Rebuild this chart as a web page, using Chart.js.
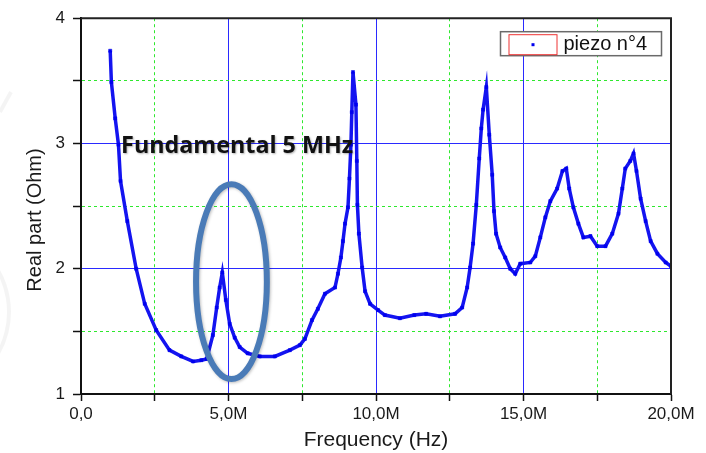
<!DOCTYPE html>
<html>
<head>
<meta charset="utf-8">
<title>piezo n°4</title>
<script src="https://cdn.jsdelivr.net/npm/chart.js@4/dist/chart.umd.min.js"></script>
<style>
  html, body { margin: 0; padding: 0; background: #fff; }
  #wrap { width: 706px; height: 453px; }
</style>
</head>
<body>
<div id="wrap"><canvas id="impedance" width="706" height="453"></canvas></div>
<script>
// Frequency sweep, MHz
const freqMHz = [
  0.99, 1.03, 1.16, 1.27, 1.34, 1.57, 1.87, 2.16, 2.55, 3.00,
  3.40, 3.80, 4.08, 4.26, 4.47, 4.60, 4.70, 4.79, 4.91, 5.04,
  5.21, 5.38, 5.65, 6.06, 6.57, 7.08, 7.42, 7.59, 7.83, 8.03,
  8.27, 8.61, 8.71, 8.81, 8.88, 8.95, 9.05, 9.10, 9.15, 9.18,
  9.22, 9.32, 9.35, 9.37, 9.42, 9.53, 9.63, 9.80, 10.07, 10.30,
  10.81, 11.30, 11.70, 12.17, 12.68, 12.92, 13.09, 13.19, 13.29, 13.40,
  13.50, 13.57, 13.63, 13.74, 13.84, 13.94, 14.00, 14.07, 14.21, 14.38,
  14.55, 14.72, 14.89, 15.23, 15.40, 15.57, 15.74, 15.91, 16.14, 16.32,
  16.45, 16.55, 16.69, 16.86, 17.03, 17.27, 17.50, 17.78, 18.01, 18.22,
  18.35, 18.45, 18.62, 18.73, 18.83, 18.97, 19.14, 19.31, 19.54, 19.82,
  20.00
];
// Real part of the impedance, Ohm
const realOhm = [
  3.74, 3.49, 3.20, 2.99, 2.70, 2.38, 2.00, 1.72, 1.51, 1.35,
  1.30, 1.26, 1.27, 1.28, 1.47, 1.69, 1.85, 1.97, 1.75, 1.56,
  1.45, 1.375, 1.325, 1.30, 1.30, 1.35, 1.39, 1.44, 1.59, 1.68,
  1.80, 1.85, 1.96, 2.09, 2.22, 2.36, 2.49, 2.72, 2.99, 3.25,
  3.57, 3.31, 2.86, 2.51, 2.28, 2.01, 1.82, 1.72, 1.67, 1.63,
  1.605, 1.63, 1.64, 1.62, 1.64, 1.69, 1.85, 2.01, 2.20, 2.51,
  2.88, 3.12, 3.27, 3.45, 3.07, 2.75, 2.46, 2.28, 2.17, 2.09,
  2.00, 1.96, 2.04, 2.05, 2.10, 2.25, 2.41, 2.54, 2.64, 2.78,
  2.80, 2.64, 2.49, 2.36, 2.25, 2.26, 2.18, 2.18, 2.28, 2.44,
  2.64, 2.80, 2.86, 2.92, 2.78, 2.56, 2.38, 2.22, 2.12, 2.05,
  2.02
];

const xTicks = { min: 0, max: 20, step: 2.5 };
const yTicks = { min: 1, max: 4, step: 0.5 };
const seriesLabel = 'piezo n°4';
const xTitle = 'Frequency (Hz)';
const yTitle = 'Real part (Ohm)';
const noteText = 'Fundamental 5 MHz';

const FONT = '"Liberation Sans", Arial, sans-serif';
const MAJOR = '#2a2aff';
const MINOR = '#2ee82e';

function isMajor(v, every) {
  return Math.abs(v / every - Math.round(v / every)) < 1e-6;
}

const gridColor = (every, lo, hi) => (ctx) => {
  if (!ctx.tick) return MAJOR;
  const v = ctx.tick.value;
  if (Math.abs(v - lo) < 1e-6 || Math.abs(v - hi) < 1e-6) return 'rgba(0,0,0,0)';
  return isMajor(v, every) ? MAJOR : MINOR;
};
const gridDash = (every) => (ctx) => {
  if (!ctx.tick) return [];
  return isMajor(ctx.tick.value, every) ? [] : [3, 3];
};

// faint shapes from the slide background, at the left edge
const backdrop = {
  id: 'backdrop',
  beforeDraw(chart) {
    const c = chart.ctx;
    c.save();
    c.strokeStyle = 'rgba(0,0,0,0.045)';
    c.lineWidth = 4;
    c.beginPath();
    c.arc(-75, 312, 84, -0.95, 0.95);
    c.stroke();
    c.beginPath();
    c.moveTo(0, 112);
    c.lineTo(11, 92);
    c.stroke();
    c.restore();
  }
};

// top/right frame, the circled peak and its note
const overlay = {
  id: 'overlay',
  afterDatasetsDraw(chart) {
    const c = chart.ctx;
    const a = chart.chartArea;
    const xs = chart.scales.x, ys = chart.scales.y;
    c.save();
    c.strokeStyle = '#222';
    c.lineWidth = 2;
    c.beginPath();
    c.moveTo(a.left, a.top);
    c.lineTo(a.right, a.top);
    c.lineTo(a.right, a.bottom);
    c.stroke();

    // ellipse around the fundamental
    const cx = xs.getPixelForValue(5.10), cy = ys.getPixelForValue(1.897);
    const rx = xs.getPixelForValue(6.30) - cx;
    const ry = cy - ys.getPixelForValue(2.675);
    c.shadowColor = 'rgba(0,0,0,0.25)';
    c.shadowBlur = 3;
    c.shadowOffsetX = 1;
    c.shadowOffsetY = 1;
    c.strokeStyle = '#4a7bb7';
    c.lineWidth = 6;
    c.beginPath();
    c.ellipse(cx, cy, rx, ry, 0, 0, Math.PI * 2);
    c.stroke();

    c.shadowColor = 'rgba(0,0,0,0.3)';
    c.shadowBlur = 2;
    c.fillStyle = '#111';
    c.font = 'bold 24px "Open Sans", "Noto Sans", sans-serif';
    c.textBaseline = 'alphabetic';
    c.textAlign = 'left';
    const tx = xs.getPixelForValue(1.36), ty = ys.getPixelForValue(2.92);
    c.fillText(noteText, tx, ty, 232);
    c.restore();
  },
  afterDraw(chart) {
    const c = chart.ctx;
    const a = chart.chartArea;
    c.save();
    // axis titles
    c.fillStyle = '#1a1a1a';
    c.textAlign = 'center';
    c.textBaseline = 'middle';
    c.font = '21px ' + FONT;
    c.fillText(xTitle, (a.left + a.right) / 2, 440);
    c.translate(35, 220);
    c.rotate(-Math.PI / 2);
    c.font = '20px ' + FONT;
    c.fillText(yTitle, 0, 0);
    c.restore();

    // legend box
    c.save();
    const bx = a.right - 170.5, by = a.top + 13.5;
    c.fillStyle = '#fff';
    c.fillRect(bx, by, 161, 24);
    c.strokeStyle = '#6a6a6a';
    c.lineWidth = 1.5;
    c.strokeRect(bx, by, 161, 24);
    c.strokeStyle = '#ee3333';
    c.lineWidth = 1;
    c.strokeRect(bx + 8.5, by + 3, 48, 20);
    c.fillStyle = '#0000ee';
    c.fillRect(bx + 31, by + 11.5, 3, 3);
    c.fillStyle = '#111';
    c.font = '20px ' + FONT;
    c.textAlign = 'left';
    c.textBaseline = 'middle';
    c.fillText(chart.data.datasets[0].label, bx + 63, by + 13);
    c.restore();
  }
};

const points = freqMHz.map((f, i) => ({ x: f, y: realOhm[i] }));

new Chart(document.getElementById('impedance'), {
  type: 'scatter',
  data: {
    datasets: [{
      label: seriesLabel,
      data: points,
      showLine: true,
      borderColor: '#1414f0',
      borderWidth: 3.5,
      pointStyle: 'rect',
      pointRadius: 2.2,
      pointBackgroundColor: '#0000ee',
      pointBorderColor: '#0000ee',
      pointBorderWidth: 0.5
    }]
  },
  options: {
    responsive: false,
    animation: false,
    devicePixelRatio: 1,
    layout: { padding: { left: 0, top: 16, right: 35, bottom: 0 } },
    plugins: { legend: { display: false }, tooltip: { enabled: false } },
    scales: {
      x: {
        type: 'linear',
        min: xTicks.min,
        max: xTicks.max,
        afterFit(scale) { scale.height = 59; },
        ticks: {
          stepSize: xTicks.step,
          autoSkip: false,
          maxRotation: 0,
          padding: 3,
          color: '#1a1a1a',
          font: { family: FONT, size: 17 },
          callback(v) {
            if (!isMajor(v, 5)) return '';
            return v === 0 ? '0,0' : v.toFixed(1).replace('.', ',') + 'M';
          }
        },
        grid: {
          color: gridColor(5, xTicks.min, xTicks.max),
          lineWidth: 1,
          tickColor: '#111',
          tickWidth: 1.5,
          tickLength: 7
        },
        border: { color: '#111', width: 2, dash: gridDash(5) }
      },
      y: {
        type: 'linear',
        min: yTicks.min,
        max: yTicks.max,
        afterFit(scale) { scale.width = 81; },
        ticks: {
          stepSize: yTicks.step,
          autoSkip: false,
          padding: 8,
          color: '#1a1a1a',
          font: { family: FONT, size: 17 },
          callback(v) { return isMajor(v, 1) ? String(v) : ''; }
        },
        grid: {
          color: gridColor(1, yTicks.min, yTicks.max),
          lineWidth: 1,
          tickColor: '#111',
          tickWidth: 1.5,
          tickLength: 8
        },
        border: { color: '#111', width: 2, dash: gridDash(1) }
      }
    }
  },
  plugins: [backdrop, overlay]
});
</script>
</body>
</html>
